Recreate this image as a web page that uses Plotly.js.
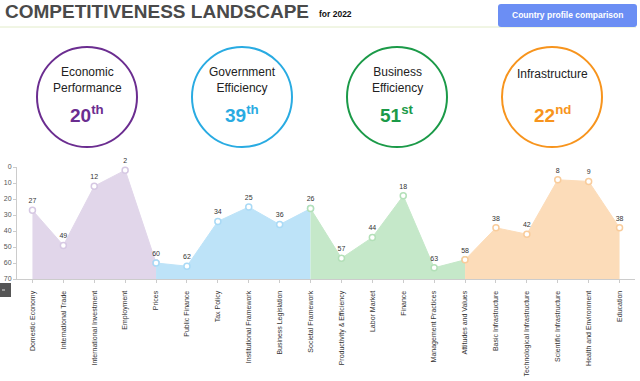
<!DOCTYPE html>
<html>
<head>
<meta charset="utf-8">
<script src="https://cdn.plot.ly/plotly-3.0.1.min.js"></script>
<style>
html,body{margin:0;padding:0;background:#fff;}
#chart{width:640px;height:381px;}
</style>
</head>
<body>
<div id="chart"></div>
<script>
// ---- data ----
const categories = [
  "Domestic Economy","International Trade","International Investment","Employment","Prices",
  "Public Finance","Tax Policy","Institutional Framework","Business Legislation","Societal Framework",
  "Productivity & Efficiency","Labor Market","Finance","Management Practices","Attitudes and Values",
  "Basic Infrastructure","Technological Infrastructure","Scientific Infrastructure","Health and Environment","Education"
];
const ranks = [27,49,12,2,60, 62,34,25,36,26, 57,44,18,63,58, 38,42,8,9,38];
const pillars = ["Economic<br>Performance","Government<br>Efficiency","Business<br>Efficiency","Infrastructure"];
const pillarRanks = [20,39,51,22];
const pillarSuffixes = ["th","th","st","nd"];
const titleText = "COMPETITIVENESS LANDSCAPE";
const yearText = "for 2022";
const buttonText = "Country profile comparison";
const yTicks = [0,10,20,30,40,50,60,70];

// ---- style ----
const Y_MAX = 70;
const groupStart = [0,4,9,14];     // each area starts at previous group's last point
const groupEnd = [4,9,14,19];
const fillColors = ["#e1d6ea","#bde3f8","#c5e8c9","#fcdcb9"];
const markerColors = ["#d6c8e3","#a9daf6","#b3e0b8","#f9cc9b"];
const circleColors = ["#6b2d90","#29abe2","#1b9a48","#f7941d"];
const circleCenters = [87,242,397,552];
const FONT = "Liberation Sans, Arial, sans-serif";

// plot area in pixels
const L = 17, T = 167, W = 618, H = 112;
const fx = x => (x - L) / W;
const fy = y => (T + H - y) / H;

const xIdx = categories.map((c,i)=>i);
const traces = [];
for (let g = 0; g < 4; g++) {
  const xs = xIdx.slice(groupStart[g], groupEnd[g] + 1);
  const ys = ranks.slice(groupStart[g], groupEnd[g] + 1);
  traces.push({
    x: xs, y: xs.map(()=>Y_MAX), mode: "lines", line: {width: 0, color: fillColors[g]},
    hoverinfo: "skip", showlegend: false, cliponaxis: false
  });
  traces.push({
    x: xs, y: ys, mode: "lines+markers", fill: "tonexty", fillcolor: fillColors[g],
    line: {width: 1, color: fillColors[g]},
    marker: {size: 6, color: "#ffffff", line: {width: 1.5, color: markerColors[g]}},
    cliponaxis: false, showlegend: false, hoverinfo: "skip"
  });
}
// value labels
traces.push({
  x: xIdx, y: ranks, mode: "markers+text", text: ranks.map(String), textposition: "top center",
  marker: {size: 7, color: "rgba(0,0,0,0)"},
  textfont: {family: FONT, size: 7, color: "#333"}, cliponaxis: false, showlegend: false, hoverinfo: "skip"
});

const shapes = [];
const annotations = [];

// header underline
shapes.push({type:"line", xref:"paper", yref:"paper", x0: fx(0), x1: fx(636), y0: fy(27), y1: fy(27),
  line:{color:"#e2ecc9", width:1}});
// button (rounded rect)
(function(){
  const x0=498,x1=637,y0=4,y1=27,r=3;
  const P=(x,y)=>fx(x)+","+fy(y);
  const path = "M"+P(x0+r,y0)+" L"+P(x1-r,y0)+" Q"+P(x1,y0)+" "+P(x1,y0+r)+
    " L"+P(x1,y1-r)+" Q"+P(x1,y1)+" "+P(x1-r,y1)+" L"+P(x0+r,y1)+" Q"+P(x0,y1)+" "+P(x0,y1-r)+
    " L"+P(x0,y0+r)+" Q"+P(x0,y0)+" "+P(x0+r,y0)+" Z";
  shapes.push({type:"path", xref:"paper", yref:"paper", path: path, fillcolor:"#6b8ef4", line:{width:0}});
})();
annotations.push({xref:"paper", yref:"paper", x: fx(567.5), y: fy(15.5), text: "<b>"+buttonText+"</b>",
  showarrow:false, xanchor:"center", yanchor:"middle", font:{family:FONT, size:8.5, color:"#ffffff"}});

// title
annotations.push({xref:"paper", yref:"paper", x: fx(3), y: fy(11.5), text: "<b>"+titleText+"</b>",
  showarrow:false, xanchor:"left", yanchor:"middle", font:{family:FONT, size:19, color:"#4a4a4a"}});
annotations.push({xref:"paper", yref:"paper", x: fx(317), y: fy(14), text: "<b>"+yearText+"</b>",
  showarrow:false, xanchor:"left", yanchor:"middle", font:{family:FONT, size:8.5, color:"#111"}});

// pillar circles
for (let g = 0; g < 4; g++) {
  const cx = circleCenters[g], cy = 97, r = 50;
  shapes.push({type:"circle", xref:"paper", yref:"paper",
    x0: fx(cx - r), x1: fx(cx + r), y0: fy(cy + r), y1: fy(cy - r),
    line:{color: circleColors[g], width: 2}, fillcolor:"rgba(0,0,0,0)"});
  const twoLines = pillars[g].indexOf("<br>") >= 0;
  annotations.push({xref:"paper", yref:"paper", x: fx(cx), y: fy(twoLines ? 79.5 : 74),
    text: pillars[g], showarrow:false, xanchor:"center", yanchor:"middle",
    font:{family:FONT, size:12, color:"#222"}});
  annotations.push({xref:"paper", yref:"paper", x: fx(cx), y: fy(114),
    text: "<b>"+pillarRanks[g]+"<sup>"+pillarSuffixes[g]+"</sup></b>", showarrow:false,
    xanchor:"center", yanchor:"middle", font:{family:FONT, size:19, color: circleColors[g]}});
}

// left scroll box
shapes.push({type:"rect", xref:"paper", yref:"paper", x0: fx(0), x1: fx(11), y0: fy(297), y1: fy(283),
  fillcolor:"#555555", line:{width:0}});
shapes.push({type:"line", xref:"paper", yref:"paper", x0: fx(2), x1: fx(5), y0: fy(290), y1: fy(290),
  line:{color:"#dddddd", width:1}});

const layout = {
  width: 640, height: 381,
  margin: {l: L, r: 640 - L - W, t: T, b: 381 - T - H, pad: 0},
  paper_bgcolor: "#ffffff", plot_bgcolor: "#ffffff",
  showlegend: false, hovermode: false,
  xaxis: {
    range: [-0.5, categories.length - 0.5], tickmode: "array", tickvals: xIdx, ticktext: categories,
    tickangle: -90, tickson: "boundaries", ticks: "outside", ticklen: 3, tickcolor: "#ccc",
    ticklabelstandoff: 5,
    showline: true, linecolor: "#ccc", linewidth: 1, showgrid: false, zeroline: false,
    tickfont: {family: FONT, size: 7, color: "#333"}, automargin: false, fixedrange: true
  },
  yaxis: {
    range: [Y_MAX, 0], tickmode: "array", tickvals: yTicks, ticks: "outside", ticklen: 3, tickcolor: "#ccc",
    showline: true, linecolor: "#ccc", linewidth: 1, showgrid: false, zeroline: false,
    tickfont: {family: FONT, size: 7, color: "#555"}, automargin: false, fixedrange: true
  },
  shapes: shapes,
  annotations: annotations
};

Plotly.newPlot("chart", traces, layout, {displayModeBar: false, staticPlot: true});
</script>
</body>
</html>
